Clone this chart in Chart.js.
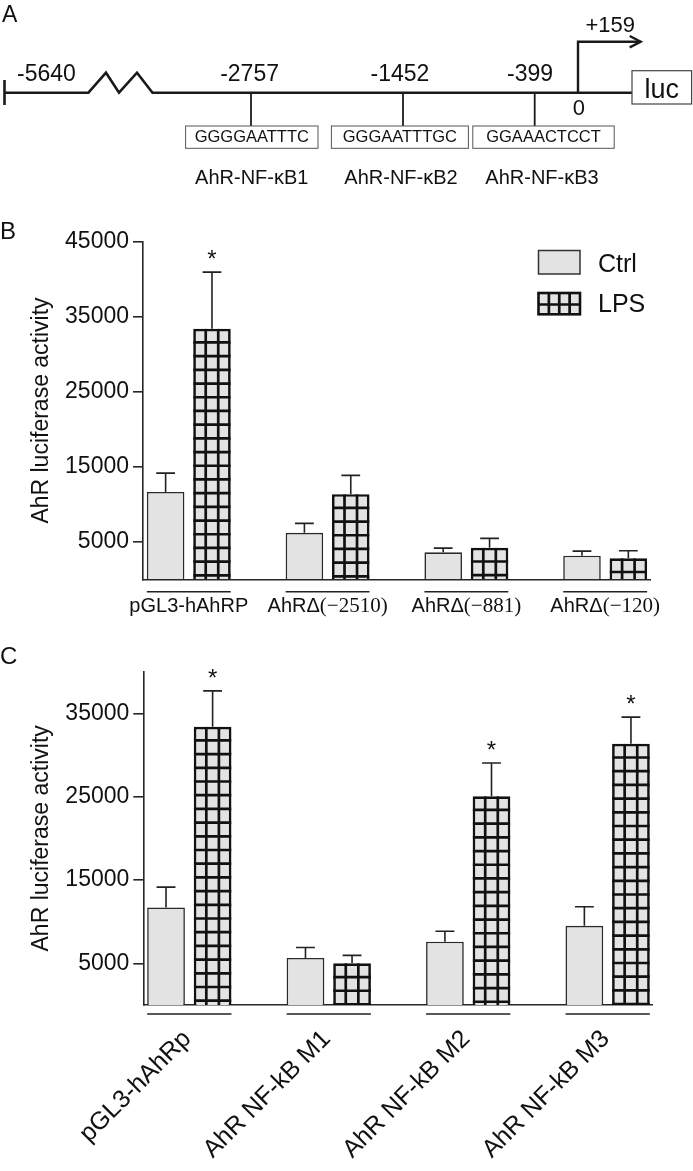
<!DOCTYPE html>
<html>
<head>
<meta charset="utf-8">
<script src="https://cdn.jsdelivr.net/npm/chart.js"></script>
<style>
  body { margin: 0; background: #fff; }
  #hoja { position: relative; width: 693px; height: 1171px; overflow: hidden; }
  .caja { position: absolute; left: 0; width: 693px; }
  svg { position: absolute; left: 0; top: 0; pointer-events: none; }
</style>
</head>
<body>
<div id="hoja">
  <div class="caja" style="top:195px;height:435px"><canvas id="graficoB"></canvas></div>
  <div class="caja" style="top:630px;height:541px"><canvas id="graficoC"></canvas></div>

  <!-- panel A: esquema del promotor -->
  <svg width="693" height="1171" font-family="Liberation Sans, Arial, Helvetica, sans-serif" fill="#111">
    <text x="2" y="22" font-size="23">A</text>
    <text x="0" y="239" font-size="24">B</text>
    <text x="0" y="664" font-size="24">C</text>

    <line x1="4.5" y1="80" x2="4.5" y2="105" stroke="#1a1a1a" stroke-width="2.6"/>
    <polyline points="4.5,92.7 88.4,92.7 106,72.7 119,92.7 137,72.7 152.5,92.7 632,92.7"
              stroke="#1a1a1a" stroke-width="2.6" fill="none"/>

    <g font-size="23" text-anchor="middle">
      <text x="46.4" y="81">-5640</text>
      <text x="249.6" y="81">-2757</text>
      <text x="400" y="81">-1452</text>
      <text x="530" y="81">-399</text>
      <text x="578.8" y="115" font-size="22">0</text>
    </g>

    <g stroke="#1a1a1a" stroke-width="1.8">
      <line x1="251" y1="92.7" x2="251" y2="126"/>
      <line x1="403" y1="92.7" x2="403" y2="126"/>
      <line x1="534.7" y1="92.7" x2="534.7" y2="126"/>
    </g>
    <g stroke="#555" stroke-width="1" fill="#fff">
      <rect x="185.6" y="126" width="132.4" height="22.3"/>
      <rect x="331.4" y="126" width="137" height="22.3"/>
      <rect x="472.8" y="126" width="141.4" height="22.3"/>
      <rect x="632" y="70.7" width="59.6" height="33.3" stroke="#444" stroke-width="1.2"/>
    </g>
    <g font-size="16.5" text-anchor="middle">
      <text x="251.8" y="142.3">GGGGAATTTC</text>
      <text x="399.9" y="142.3">GGGAATTTGC</text>
      <text x="543.5" y="142.3">GGAAACTCCT</text>
    </g>
    <g font-size="20" text-anchor="middle">
      <text x="251.8" y="184.3">AhR-NF-κB1</text>
      <text x="401" y="184.3">AhR-NF-κB2</text>
      <text x="542" y="184.3">AhR-NF-κB3</text>
    </g>
    <text x="661.8" y="98" font-size="27" text-anchor="middle">luc</text>

    <polyline points="578,92.7 578,41.7 640.7,41.7" stroke="#1a1a1a" stroke-width="2.4" fill="none"/>
    <polyline points="629.7,36 640.7,41.7 629.7,47.4" stroke="#1a1a1a" stroke-width="2.4" fill="none"/>
    <text x="585.5" y="31.7" font-size="22">+159</text>
  </svg>
</div>

<script>
Chart.defaults.font.family = "'Liberation Sans', Arial, Helvetica, sans-serif";
Chart.defaults.color = '#111';

// ---- datos panel B ----
const construccionesB = ['pGL3-hAhRP', 'AhRΔ(−2510)', 'AhRΔ(−881)', 'AhRΔ(−120)'];
const ctrlB = [11650, 6200, 3600, 3150];
const semCtrlB = [2500, 1250, 550, 600];
const lpsB = [33400, 11350, 4200, 2800];
const semLpsB = [7550, 2500, 1250, 1000];
const estrellasB = [true, false, false, false];
const ticksB = [5000, 15000, 25000, 35000, 45000];

// ---- datos panel C ----
const construccionesC = ['pGL3-hAhRp', 'AhR NF-kB M1', 'AhR NF-kB M2', 'AhR NF-kB M3'];
const ctrlC = [11700, 5650, 7600, 9500];
const semCtrlC = [2450, 1250, 1250, 2300];
const lpsC = [33400, 5000, 25050, 31350];
const semLpsC = [4300, 950, 4000, 3200];
const estrellasC = [true, false, true, true];
const ticksC = [5000, 15000, 25000, 35000];

const series = ['Ctrl', 'LPS'];
const gris = '#e3e3e3';
const fuente = "'Liberation Sans', Arial, Helvetica, sans-serif";

function dibujarCuadricula(ctx, izq, arriba, ancho, abajo, columnas, paso) {
    ctx.save();
    ctx.beginPath();
    ctx.rect(izq, arriba, ancho, abajo - arriba);
    ctx.clip();
    ctx.strokeStyle = '#111';
    ctx.lineWidth = 2.7;
    ctx.beginPath();
    for (let k = 1; k < columnas; k++) {
        const xx = izq + ancho * k / columnas;
        ctx.moveTo(xx, arriba);
        ctx.lineTo(xx, abajo);
    }
    for (let yy = arriba + paso; yy < abajo; yy += paso) {
        ctx.moveTo(izq, yy);
        ctx.lineTo(izq + ancho, yy);
    }
    ctx.stroke();
    ctx.restore();
}

function crearDetalles(etiquetas, opc) {
    return {
        id: 'detalles',
        afterDatasetsDraw(chart) {
            const ctx = chart.ctx;
            const y = chart.scales.y;
            chart.data.datasets.forEach((ds, d) => {
                const meta = chart.getDatasetMeta(d);
                meta.data.forEach((bar, i) => {
                    const izq = bar.x - bar.width / 2;
                    if (ds.cuadricula) {
                        dibujarCuadricula(ctx, izq, bar.y, bar.width, bar.base, 3, 13.7);
                    }
                    // barra de error (solo hacia arriba)
                    const tope = y.getPixelForValue(ds.data[i].y + ds.sem[i]);
                    const cap = bar.width / 2;
                    ctx.save();
                    ctx.strokeStyle = '#222';
                    ctx.lineWidth = 1.6;
                    ctx.beginPath();
                    ctx.moveTo(bar.x, bar.y);
                    ctx.lineTo(bar.x, tope);
                    ctx.moveTo(bar.x - cap / 2, tope);
                    ctx.lineTo(bar.x + cap / 2, tope);
                    ctx.stroke();
                    if (ds.estrellas[i]) {
                        ctx.fillStyle = '#111';
                        ctx.font = '24px ' + fuente;
                        ctx.textAlign = 'center';
                        ctx.textBaseline = 'alphabetic';
                        ctx.fillText('*', bar.x, tope - 5);
                    }
                    ctx.restore();
                });
            });
        },
        afterDraw(chart) {
            const ctx = chart.ctx;
            const x = chart.scales.x;
            const area = chart.chartArea;
            const m0 = chart.getDatasetMeta(0);
            const m1 = chart.getDatasetMeta(1);
            ctx.save();
            etiquetas.forEach((et, i) => {
                const a = m0.data[i], b = m1.data[i];
                ctx.strokeStyle = '#222';
                ctx.lineWidth = 1.5;
                ctx.beginPath();
                ctx.moveTo(a.x - a.width / 2, area.bottom + opc.linea);
                ctx.lineTo(b.x + b.width / 2, area.bottom + opc.linea);
                ctx.stroke();

                const cx = x.getPixelForValue(i);
                ctx.fillStyle = '#111';
                if (opc.rotar) {
                    ctx.save();
                    ctx.translate(cx - 2, area.bottom + opc.texto);
                    ctx.rotate(-Math.PI / 4);
                    ctx.font = '25px ' + fuente;
                    ctx.textAlign = 'right';
                    ctx.textBaseline = 'middle';
                    ctx.fillText(et, 0, 0);
                    ctx.restore();
                } else {
                    // parte sans + parte serif entre parentesis
                    const corte = et.indexOf('(');
                    const sans = corte < 0 ? et : et.slice(0, corte);
                    const serif = corte < 0 ? '' : et.slice(corte);
                    ctx.font = '20px ' + fuente;
                    const w1 = ctx.measureText(sans).width;
                    ctx.font = "21px 'Liberation Serif', 'Times New Roman', serif";
                    const w2 = ctx.measureText(serif).width;
                    let inicio = cx - (w1 + w2) / 2;
                    ctx.textAlign = 'left';
                    ctx.textBaseline = 'alphabetic';
                    ctx.font = '20px ' + fuente;
                    ctx.fillText(sans, inicio, area.bottom + opc.texto);
                    ctx.font = "21px 'Liberation Serif', 'Times New Roman', serif";
                    ctx.fillText(serif, inicio + w1, area.bottom + opc.texto);
                }
            });

            if (opc.leyenda) {
                const lx = 538.5, ancho = 41.5;
                const filas = [{ y: 55.5, h: 23.5 }, { y: 98, h: 21.3 }];
                chart.data.datasets.forEach((ds, d) => {
                    const f = filas[d];
                    ctx.fillStyle = gris;
                    ctx.fillRect(lx, f.y, ancho, f.h);
                    if (ds.cuadricula) {
                        dibujarCuadricula(ctx, lx, f.y, ancho, f.y + f.h, 4, 11.5);
                        ctx.strokeStyle = '#111';
                        ctx.lineWidth = 2.6;
                    } else {
                        ctx.strokeStyle = '#333';
                        ctx.lineWidth = 1.5;
                    }
                    ctx.strokeRect(lx, f.y, ancho, f.h);
                    ctx.fillStyle = '#111';
                    ctx.font = '25px ' + fuente;
                    ctx.textAlign = 'left';
                    ctx.textBaseline = 'alphabetic';
                    ctx.fillText(ds.label, 598, f.y + f.h - 2);
                });
            }
            ctx.restore();
        }
    };
}

function crearGrafico(id, construcciones, ctrl, semCtrl, lps, semLps, estrellas, ticksY, yMax, caja, opc) {
    const puntos = v => v.map((valor, i) => ({ x: i, y: valor }));
    return new Chart(document.getElementById(id), {
        type: 'bar',
        data: {
            datasets: [{
                label: series[0],
                data: puntos(ctrl),
                sem: semCtrl,
                estrellas: estrellas.map(() => false),
                backgroundColor: gris,
                borderColor: '#2a2a2a',
                borderWidth: 1.6
            }, {
                label: series[1],
                data: puntos(lps),
                sem: semLps,
                estrellas: estrellas,
                cuadricula: true,
                backgroundColor: gris,
                borderColor: '#111',
                borderWidth: 2.7
            }]
        },
        options: {
            animation: false,
            responsive: true,
            maintainAspectRatio: false,
            events: [],
            layout: { padding: { top: caja.arriba, right: caja.derecha, bottom: 0, left: 0 } },
            categoryPercentage: 0.668,
            barPercentage: 0.81,
            plugins: { legend: { display: false }, tooltip: { enabled: false } },
            scales: {
                x: {
                    type: 'linear',
                    offset: false,
                    min: -0.33,
                    max: 3.323,
                    afterBuildTicks: s => { s.ticks = construcciones.map((c, i) => ({ value: i })); },
                    afterFit: s => { s.height = caja.altoX; },
                    ticks: { display: false },
                    grid: { display: false, offset: false },
                    border: { display: true, color: '#262626', width: 1.6 }
                },
                y: {
                    min: 0,
                    max: yMax,
                    afterBuildTicks: s => { s.ticks = ticksY.map(v => ({ value: v })); },
                    afterFit: s => { s.width = caja.ejeY; },
                    ticks: {
                        color: '#111',
                        padding: 4,
                        font: { size: 23 },
                        callback: v => String(v)
                    },
                    grid: { drawOnChartArea: false, drawTicks: true, tickLength: 10, color: '#262626', lineWidth: 1.6 },
                    border: { display: true, color: '#262626', width: 1.6 },
                    title: {
                        display: true,
                        text: 'AhR luciferase activity',
                        color: '#111',
                        font: { size: 23 },
                        padding: { top: 28, bottom: 0 }
                    }
                }
            }
        },
        plugins: [crearDetalles(construcciones, opc)]
    });
}

crearGrafico('graficoB', construccionesB, ctrlB, semCtrlB, lpsB, semLpsB, estrellasB, ticksB, 45000,
    { arriba: 46.7, derecha: 43, altoX: 50.7, ejeY: 143 },
    { linea: 12.4, texto: 32.4, rotar: false, leyenda: true });

crearGrafico('graficoC', construccionesC, ctrlC, semCtrlC, lpsC, semLpsC, estrellasC, ticksC, 40000,
    { arriba: 41.7, derecha: 40.3, altoX: 166, ejeY: 143.3 },
    { linea: 9, texto: 30, rotar: true, leyenda: false });
</script>
</body>
</html>
